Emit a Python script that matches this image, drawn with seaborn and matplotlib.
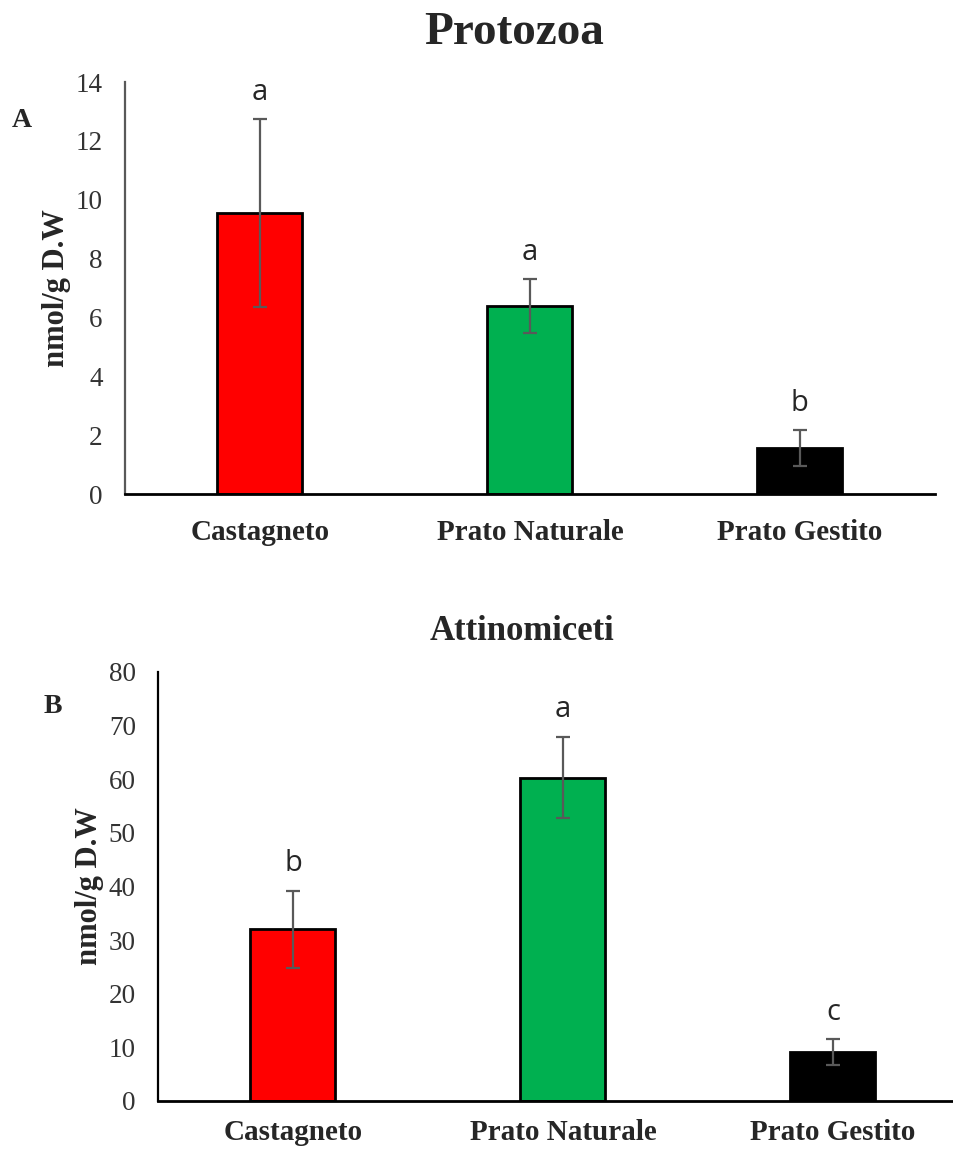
import matplotlib
matplotlib.use("Agg")
import matplotlib.pyplot as plt
import seaborn as sns
import pandas as pd

# Sites and bar colours
sites = ["Castagneto", "Prato Naturale", "Prato Gestito"]
colors = ["#FF0000", "#00B050", "#000000"]

# Protozoa (nmol/g D.W)
protozoa_mean = [9.55, 6.38, 1.56]
protozoa_err = [3.18, 0.92, 0.61]
protozoa_letters = ["a", "a", "b"]

# Attinomiceti (nmol/g D.W)
attino_mean = [32.0, 60.3, 9.1]
attino_err = [7.2, 7.6, 2.4]
attino_letters = ["b", "a", "c"]

sns.set_theme(style="white")
plt.rcParams["font.family"] = ["Liberation Serif", "DejaVu Serif"]

fig = plt.figure(figsize=(9.54, 11.49), dpi=100)
ax1 = fig.add_axes([0.131, 0.570, 0.849, 0.3586])
ax2 = fig.add_axes([0.1656, 0.0418, 0.849, 0.3734])


def draw_panel(ax, means, errs, letters, ymax, ystep, left_color, bar_width,
               xpad):
    df = pd.DataFrame({"site": sites, "value": means})
    sns.barplot(data=df, x="site", y="value", hue="site", palette=colors,
                order=sites, hue_order=sites, legend=False, errorbar=None,
                width=bar_width, edgecolor="black", linewidth=2, ax=ax,
                saturation=1)
    ax.errorbar(range(len(sites)), means, yerr=errs, fmt="none",
                ecolor="#595959", elinewidth=1.6, capsize=5, capthick=1.6,
                zorder=5)
    for i, (m, e, lt) in enumerate(zip(means, errs, letters)):
        ax.annotate(lt, (i, m + e), xytext=(0, 9), textcoords="offset points",
                    ha="center", va="bottom", fontsize=21,
                    family=["Open Sans", "DejaVu Sans"], color="#262626")
    ax.set_xlim(-0.5, 2.5)
    ax.set_ylim(0, ymax)
    ax.set_yticks(range(0, ymax + 1, ystep))
    ax.set_xlabel("")
    ax.set_ylabel("nmol/g D.W", fontsize=22, fontweight="bold", labelpad=3)
    ax.tick_params(axis="y", length=0, pad=16, labelsize=19.5,
                   labelcolor="#333333")
    ax.tick_params(axis="x", length=0, pad=xpad, labelsize=21)
    for lbl in ax.get_xticklabels():
        lbl.set_fontweight("bold")
    for s in ("top", "right"):
        ax.spines[s].set_visible(False)
    ax.spines["bottom"].set_color("black")
    ax.spines["bottom"].set_linewidth(2)
    ax.spines["left"].set_color(left_color)
    ax.spines["left"].set_linewidth(1.6)


draw_panel(ax1, protozoa_mean, protozoa_err, protozoa_letters, 14, 2,
           "#595959", 0.315, 18)
draw_panel(ax2, attino_mean, attino_err, attino_letters, 80, 10,
           "black", 0.315, 13)

fig.text(0.539, 0.971, "Protozoa", fontsize=34, fontweight="bold",
         ha="center", va="center")
fig.text(0.547, 0.450, "Attinomiceti", fontsize=25, fontweight="bold",
         ha="center", va="center")

fig.text(0.012, 0.895, "A", fontsize=20, fontweight="bold", va="center")
fig.text(0.046, 0.385, "B", fontsize=20, fontweight="bold", va="center")

fig.savefig("out.png", dpi=100, facecolor="white")
